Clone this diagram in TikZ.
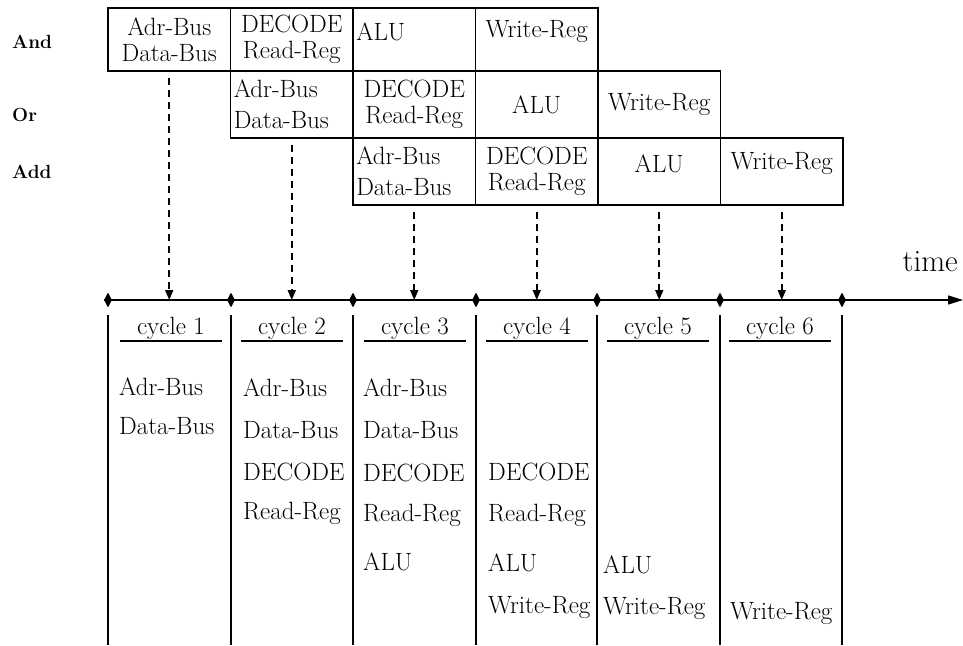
\documentclass[tikz,border=0pt]{standalone}
\usepackage{tikz}
\usetikzlibrary{arrows.meta,positioning,calc,shapes.geometric}
\newcommand{\opfont}{\fontsize{25}{26}\selectfont}
\newcommand{\lift}[1]{\raisebox{8pt}[\height][\depth]{#1}}
\tikzset{
  stage/.style={draw, line width=1.4pt, outer sep=0pt, minimum width=122.5pt,
                minimum height=67pt, inner sep=2pt, align=center, font=\opfont},
  stagel/.style={stage, text width=116pt, align=left},
  instr/.style={font=\fontsize{19}{22}\selectfont\bfseries, anchor=west, inner sep=0pt},
  tick/.style={diamond, fill, inner sep=0pt, minimum width=8pt, minimum height=15pt},
  feed/.style={-{Triangle[length=10pt,width=8pt]}, line width=1.6pt,
               dash pattern=on 7pt off 5pt, shorten <=7pt},
  axisl/.style={-{Triangle[length=15pt,width=9pt]}, line width=1.5pt},
  sepl/.style={line width=1.4pt},
  cyc/.style={font=\opfont, inner sep=0pt},
  op/.style={font=\opfont, anchor=west, inner sep=0pt},
}

\begin{document}
\begin{tikzpicture}[x=1pt, y=-1pt]
\useasboundingbox (0,0) rectangle (963,645);

\node[instr] (iand) at (12,42) {And};
\node[instr] (ior) at (12,115) {Or};
\node[instr] (iadd) at (12,172) {Add};

\node[stage, minimum height=63pt, anchor=north west] (and1) at (108,8) {Adr-Bus\\Data-Bus};
\node[stage, minimum height=63pt, right=0pt of and1] (and2) {DECODE\\Read-Reg};
\node[stagel, minimum height=63pt, right=0pt of and2] (and3) {\lift{ALU}};
\node[stage, minimum height=63pt, right=0pt of and3] (and4) {\lift{Write-Reg}};

\node[stagel, below=0pt of and2] (or1) {Adr-Bus\\[5pt]Data-Bus};
\node[stage, right=0pt of or1] (or2) {DECODE\\Read-Reg};
\node[stage, right=0pt of or2] (or3) {ALU};
\node[stage, right=0pt of or3] (or4) {Write-Reg};

\node[stagel, below=0pt of or2] (add1) {Adr-Bus\\[5pt]Data-Bus};
\node[stage, right=0pt of add1] (add2) {DECODE\\Read-Reg};
\node[stage, right=0pt of add2] (add3) {\lift{ALU}};
\node[stage, right=0pt of add3] (add4) {\lift{Write-Reg}};

\coordinate (t0) at (104,300);
\coordinate (tend) at (963,300);
\draw[axisl] (t0) -- (tend);
\node[font=\fontsize{31}{34}\selectfont, anchor=east, inner sep=0pt] (timel) at (958,262) {time};

\foreach \x [count=\k from 0] in {108,231,353,476,597,720,842}{
  \node[tick] (k\k) at (\x,300) {};
  \draw[sepl] (\x,315) -- (\x,645);
}

\draw[feed] (and1.south) -- (and1.south |- t0);
\draw[feed] (or1.south) -- (or1.south |- t0);
\draw[feed] (add1.south) -- (add1.south |- t0);
\draw[feed] (add2.south) -- (add2.south |- t0);
\draw[feed] (add3.south) -- (add3.south |- t0);
\draw[feed] (add4.south) -- (add4.south |- t0);

\foreach \x [count=\k] in {171,292,415,537,658,780}{
  \node[cyc] (c\k) at (\x,328) {cycle \k};
  \draw[sepl] ($(c\k)+(-51,13)$) -- ($(c\k)+(51,13)$);
}

\foreach \x/\y/\t [count=\k] in {119/387/Adr-Bus, 119/426/Data-Bus,
    243/388/Adr-Bus, 243/430/Data-Bus, 243/472/DECODE, 243/513/Read-Reg,
    363/388/Adr-Bus, 363/430/Data-Bus, 363/473/DECODE, 363/515/Read-Reg, 363/562/ALU,
    488/472/DECODE, 488/515/Read-Reg, 488/563/ALU, 488/608/Write-Reg,
    603/565/ALU, 603/609/Write-Reg,
    730/614/Write-Reg}
  \node[op] (u\k) at (\x,\y) {\t};
\end{tikzpicture}
\end{document}
